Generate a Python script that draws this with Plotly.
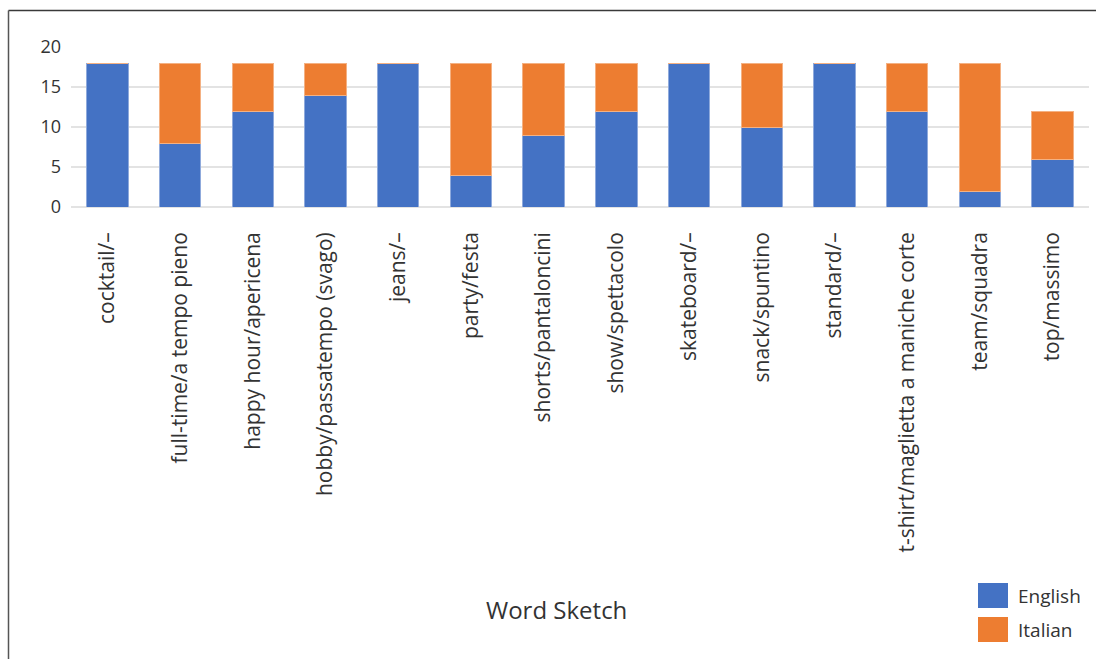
import plotly.graph_objects as go

categories = [
    "cocktail/–", "full-time/a tempo pieno", "happy hour/apericena",
    "hobby/passatempo (svago)", "jeans/–", "party/festa",
    "shorts/pantaloncini", "show/spettacolo", "skateboard/–",
    "snack/spuntino", "standard/–", "t-shirt/maglietta a maniche corte",
    "team/squadra", "top/massimo",
]
english = [18, 8, 12, 14, 18, 4, 9, 12, 18, 10, 18, 12, 2, 6]
italian = [0, 10, 6, 4, 0, 14, 9, 6, 0, 8, 0, 6, 16, 6]
y_ticks = [0, 5, 10, 15, 20]

BLUE = "#4472C4"
ORANGE = "#ED7D31"
TEXT = "#333333"
FONT = "Open Sans"

fig = go.Figure()
fig.add_trace(go.Bar(name="English", x=categories, y=english,
                     marker=dict(color=BLUE, line=dict(color="#8FAADC", width=1))))
fig.add_trace(go.Bar(name="Italian", x=categories, y=italian,
                     marker=dict(color=ORANGE, line=dict(color="#F4B183", width=1))))

W, H = 1096, 659
L, R, T, B = 71, 7, 47, 452

fig.update_layout(
    width=W, height=H,
    barmode="stack", bargap=0.43,
    plot_bgcolor="white", paper_bgcolor="white",
    margin=dict(l=L, r=R, t=T, b=B),
    showlegend=False,
    font=dict(family=FONT, color=TEXT),
)
fig.update_xaxes(tickangle=-90, tickfont=dict(size=21, color=TEXT),
                 showgrid=False, showline=False, ticks="",
                 ticklabelstandoff=20)
fig.update_yaxes(range=[0, 20], tickvals=y_ticks, tickfont=dict(size=18, color=TEXT),
                 showgrid=True, gridcolor="#E3E3E3", gridwidth=2,
                 zeroline=True, zerolinecolor="#E3E3E3", zerolinewidth=2,
                 ticks="", ticklabelstandoff=9)

pw = W - L - R
ph = H - T - B

def px(x):
    return (x - L) / pw

def py(y):
    return (H - B - y) / ph

# Outer frame: left and top edges
fig.add_shape(type="line", xref="paper", yref="paper",
              x0=px(8.5), x1=px(1100), y0=py(10.5), y1=py(10.5),
              line=dict(color="#3a3a3a", width=1.5))
fig.add_shape(type="line", xref="paper", yref="paper",
              x0=px(8.5), x1=px(8.5), y0=py(10.5), y1=py(665),
              line=dict(color="#555555", width=1.5))

# Axis title
fig.add_annotation(text="Word Sketch", xref="paper", yref="paper",
                   x=px(556), y=py(609), showarrow=False,
                   font=dict(size=24, color=TEXT, family=FONT),
                   xanchor="center", yanchor="middle")

# Legend swatches
for i, (name, col) in enumerate([("English", BLUE), ("Italian", ORANGE)]):
    yc = 595.5 + i * 34
    fig.add_shape(type="rect", xref="paper", yref="paper",
                  x0=px(978), x1=px(1008), y0=py(yc - 12.5), y1=py(yc + 12.5),
                  fillcolor=col, line=dict(width=0))
    fig.add_annotation(text=name, xref="paper", yref="paper",
                       x=px(1016), y=py(yc), showarrow=False,
                       xanchor="left", yanchor="middle",
                       font=dict(size=19, color=TEXT, family=FONT))

fig.write_html("out.html")
